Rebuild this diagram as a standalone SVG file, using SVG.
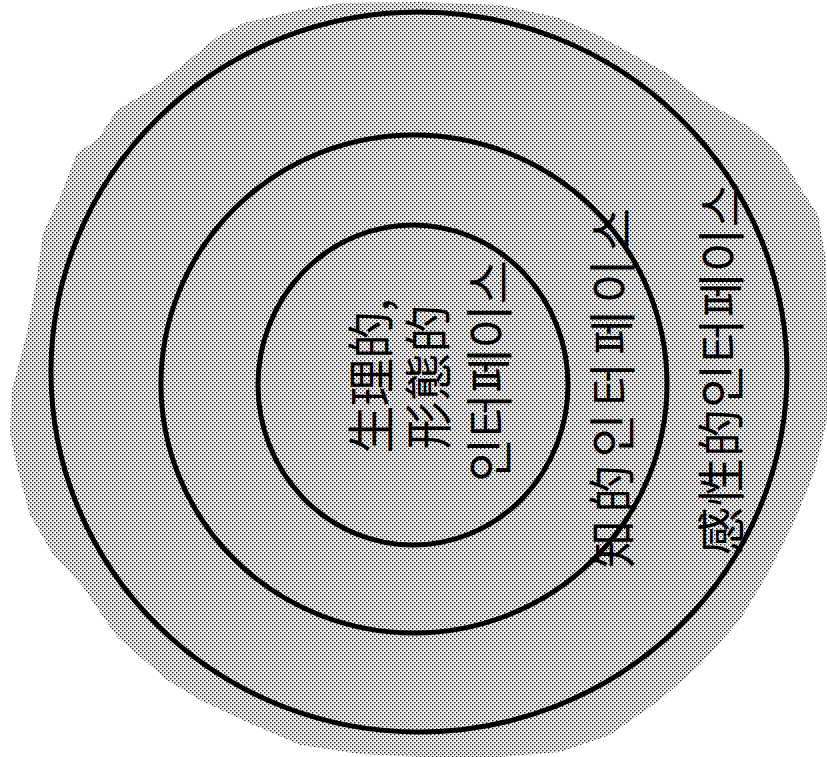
<svg xmlns="http://www.w3.org/2000/svg" width="827" height="757" viewBox="0 0 827 757">
  <defs>
    <pattern id="dither" width="4" height="4" patternUnits="userSpaceOnUse">
      <rect width="4" height="4" fill="#f4f4f4"/>
      <rect x="0" y="0" width="1.4" height="1.4" fill="#1e1e1e"/>
      <rect x="2" y="2" width="1.4" height="1.4" fill="#1e1e1e"/>
    </pattern>
    <style>
      .ring { fill: none; stroke: #000; stroke-width: 5; }
      .lbl { font-family: "Noto Sans CJK KR", "Noto Sans CJK SC", sans-serif; font-size: 48px; fill: #000; text-anchor: middle; }
    </style>
  </defs>
  <rect width="827" height="757" fill="#fff"/>
  <path id="backdrop" fill="url(#dither)" d="M300,10 L340,3 L420,2 L500,5 L560,18 L600,36 L667,73 L700,98 L750,127 L777,150 L800,187 L818,215 L826,260 L827,330 L827,420 L815,470 L795,520 L770,570 L740,620 L700,665 L660,700 L610,735 L560,752 L500,757 L420,757 L360,754 L300,745 L247,722 L200,700 L167,680 L117,637 L83,587 L52,553 L30,515 L17,467 L10,433 L12,390 L20,360 L27,333 L37,277 L43,233 L60,197 L77,153 L97,140 L117,110 L150,90 L180,67 L217,37 L243,23 Z"/>
  <g id="outer">
    <ellipse class="ring" cx="419" cy="372" rx="368" ry="360"/>
    <text class="lbl" transform="translate(739,369) rotate(-90)" textLength="372" lengthAdjust="spacing">感性的인터페이스</text>
  </g>
  <g id="middle">
    <ellipse class="ring" cx="414" cy="384" rx="253" ry="249"/>
    <text class="lbl" transform="translate(630,388) rotate(-90)" textLength="360" lengthAdjust="spacing">知的인터페이스</text>
  </g>
  <g id="inner">
    <ellipse class="ring" cx="413" cy="385" rx="155" ry="160"/>
    <text class="lbl" transform="translate(389,376) rotate(-90)" textLength="155" lengthAdjust="spacing">生理的,</text>
    <text class="lbl" transform="translate(446,377) rotate(-90)" textLength="145" lengthAdjust="spacing">形態的</text>
    <text class="lbl" transform="translate(507,371) rotate(-90)" textLength="222" lengthAdjust="spacing">인터페이스</text>
  </g>
  <g id="connectors"/>
</svg>
